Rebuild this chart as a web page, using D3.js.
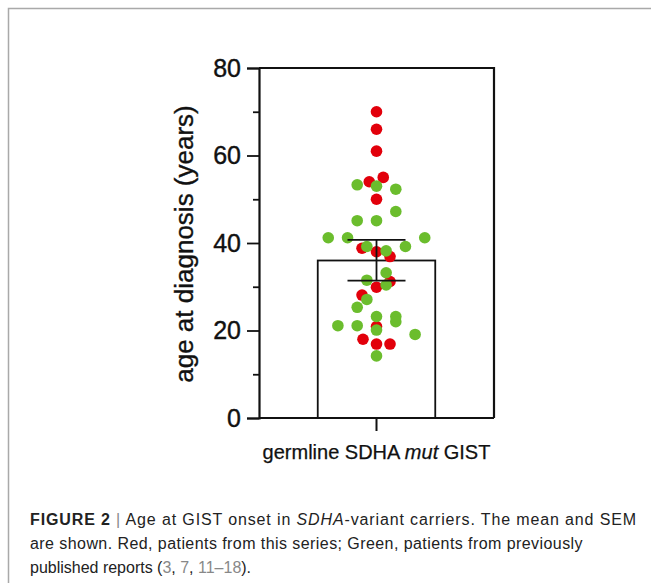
<html>
  <meta charset="utf-8">
  <head>
  <style>
    body {
      margin: 0;
      background: #fff;
    }
    svg text {
      font-family: "Liberation Sans", Arial, sans-serif;
    }
  </style>
  </head>
  <body>
    <div id="elm"></div>

    <script src="https://d3js.org/d3.v7.min.js"></script>
    <script>

    'use strict';

    // one group on the x axis
    var categories = ['germline SDHA mut GIST'];

    // red: patients from this series (age, swarm lane)
    var redAges  = [70, 66, 61, 55, 54, 50, 38.8, 38, 36.9, 31.2, 29.9, 28.1, 20.9, 18, 16.9, 16.9];
    var redLanes = [0, 0, 0, 0.7, -0.75, 0, -1.5, 0, 1.4, 1.4, 0, -1.5, 0, -1.4, 0, 1.4];

    // green: patients from previously published reports
    var greenAges  = [53.3, 53, 52.3, 47.2, 45.1, 45.1, 41.2, 41.2, 41.2, 39.2, 38.2, 39.2, 33.2,
                      31.5, 30.4, 27.1, 25.3, 23.2, 23.2, 22, 21.1, 21.1, 20.1, 19.1, 14.2];
    var greenLanes = [-2, 0, 2, 2, -2, 0, -5, -3, 5, -1, 1, 3, 1,
                      -1, 1, -1, -2, 0, 2, 2, -4, -2, 0, 4, 0];

    // mean and SEM shown by the bar
    var mean = [36];
    var errLow = [31.4];
    var errHigh = [40.7];

    var yTicks = [0, 20, 40, 60, 80];
    var yMinor = [10, 30, 50, 70];

    var W = 651, H = 583;
    var svg = d3.select('#elm').append('svg')
      .attr('width', W)
      .attr('height', H);

    // outer figure border
    svg.append('path')
      .attr('d', 'M' + W + ',8.5H8.5V' + H)
      .attr('fill', 'none')
      .attr('stroke', '#a9a9a9')
      .attr('stroke-width', 1.5);

    var pLeft = 259, pRight = 494, pTop = 68, pBottom = 418;

    var y = d3.scaleLinear().domain([0, 80]).range([pBottom, pTop]);
    var x = d3.scaleBand().domain(categories).range([pLeft, pRight])
      .paddingInner(0).paddingOuter(0.5);
    var lane = d3.scaleLinear().domain([0, 1]).range([0, 9.65]);
    var cx = x(categories[0]) + x.bandwidth() / 2;

    var g = svg.append('g');

    // bar (mean)
    g.selectAll('rect.bar')
      .data(mean)
      .enter().append('rect')
        .attr('class', 'bar')
        .attr('x', x(categories[0]))
        .attr('width', x.bandwidth())
        .attr('y', d => y(d))
        .attr('height', d => y(0) - y(d))
        .attr('fill', 'none')
        .attr('stroke', '#111')
        .attr('stroke-width', 1.8);

    // dots
    var dots = redAges.map((v, i) => ({v: v, l: redLanes[i], c: '#e2000b'}))
      .concat(greenAges.map((v, i) => ({v: v, l: greenLanes[i], c: '#6bbd2d'})));

    g.selectAll('circle')
      .data(dots)
      .enter().append('circle')
        .attr('cx', d => cx + lane(d.l))
        .attr('cy', d => y(d.v))
        .attr('r', 5.8)
        .attr('fill', d => d.c);

    // error bar
    var eb = g.append('g').attr('stroke', '#111').attr('stroke-width', 1.8);
    eb.append('line')
      .attr('x1', cx).attr('x2', cx)
      .attr('y1', y(errLow[0])).attr('y2', y(errHigh[0]));
    [errLow[0], errHigh[0]].forEach(function(v) {
      eb.append('line')
        .attr('x1', cx - 29).attr('x2', cx + 29)
        .attr('y1', y(v)).attr('y2', y(v));
    });

    // frame: top and right
    g.append('path')
      .attr('d', 'M' + pLeft + ',' + pTop + 'H' + pRight + 'V' + pBottom)
      .attr('fill', 'none')
      .attr('stroke', '#111')
      .attr('stroke-width', 2.2);

    // y axis
    var yAxis = g.append('g')
      .attr('transform', 'translate(' + pLeft + ',0)')
      .call(d3.axisLeft(y).tickValues(yTicks).tickSize(12).tickPadding(6));
    yAxis.selectAll('text')
      .attr('font-size', 25)
      .attr('fill', '#111')
      .attr('stroke', '#111')
      .attr('stroke-width', 0.4)
      .style('font-family', '"Liberation Sans", Arial, sans-serif');
    yAxis.selectAll('line').attr('stroke', '#111').attr('stroke-width', 1.8);
    yAxis.select('.domain').attr('stroke', '#111').attr('stroke-width', 2.2);

    var yMin = g.append('g')
      .attr('transform', 'translate(' + pLeft + ',0)')
      .call(d3.axisLeft(y).tickValues(yMinor).tickSize(6).tickFormat(''));
    yMin.select('.domain').remove();
    yMin.selectAll('line').attr('stroke', '#111').attr('stroke-width', 1.8);

    // x axis
    var xAxis = g.append('g')
      .attr('transform', 'translate(0,' + pBottom + ')')
      .call(d3.axisBottom(x).tickSize(13).tickFormat(''));
    xAxis.select('.domain').attr('stroke', '#111').attr('stroke-width', 2.2)
      .attr('d', 'M' + pLeft + ',0H' + pRight);
    xAxis.selectAll('line').attr('stroke', '#111').attr('stroke-width', 2);

    var xl = g.append('text')
      .attr('x', cx)
      .attr('y', 459)
      .attr('text-anchor', 'middle')
      .attr('font-size', 20)
      .attr('fill', '#111')
      .attr('stroke', '#111')
      .attr('stroke-width', 0.25);
    xl.append('tspan').text('germline SDHA ');
    xl.append('tspan').attr('font-style', 'italic').text('mut');
    xl.append('tspan').text(' GIST');

    g.append('text')
      .attr('transform', 'translate(193,' + ((pTop + pBottom) / 2 + 1) + ') rotate(-90)')
      .attr('text-anchor', 'middle')
      .attr('font-size', 26)
      .attr('fill', '#111')
      .attr('stroke', '#111')
      .attr('stroke-width', 0.35)
      .text('age at diagnosis (years)');

    // caption
    var cap = svg.append('g')
      .style('font-family', '"Liberation Sans Narrow", "Liberation Sans", Arial, sans-serif')
      .attr('font-size', 16)
      .attr('fill', '#222');

    var l1 = cap.append('text').attr('x', 30).attr('y', 525);
    l1.append('tspan').attr('font-weight', 'bold').text('FIGURE 2');
    l1.append('tspan').attr('fill', '#888').text(' | ');
    l1.append('tspan').text('Age at GIST onset in ');
    l1.append('tspan').attr('font-style', 'italic').text('SDHA');
    l1.append('tspan').text('-variant carriers. The mean and SEM');

    var l2 = cap.append('text').attr('x', 30).attr('y', 549)
      .text('are shown. Red, patients from this series; Green, patients from previously');

    var l3 = cap.append('text').attr('x', 30).attr('y', 573);
    l3.append('tspan').text('published reports (');
    l3.append('tspan').attr('fill', '#888').text('3');
    l3.append('tspan').text(', ');
    l3.append('tspan').attr('fill', '#888').text('7');
    l3.append('tspan').text(', ');
    l3.append('tspan').attr('fill', '#888').text('11–18');
    l3.append('tspan').text(').');

    // fit each caption line to its width in the figure with letter spacing
    [[l1, 607], [l2, 553], [l3, 221]].forEach(function(p) {
      var t = p[0], target = p[1];
      var n = t.text().length;
      var len = t.node().getComputedTextLength();
      t.attr('letter-spacing', ((target - len) / n).toFixed(3));
    });

    </script>
  </body>
</html>
